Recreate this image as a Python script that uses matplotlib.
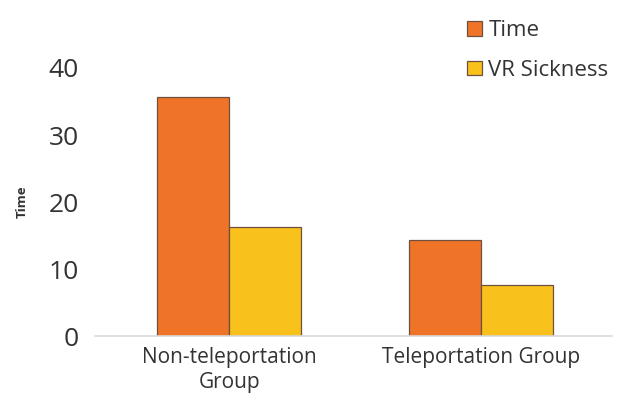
import matplotlib
matplotlib.use("Agg")
import matplotlib.pyplot as plt
import numpy as np

groups = ["Non-teleportation\nGroup", "Teleportation Group"]
series = ["Time", "VR Sickness"]
time_vals = [35.7, 14.3]
sickness_vals = [16.3, 7.6]
yticks = [0, 10, 20, 30, 40]

plt.rcParams["font.family"] = ["Open Sans", "DejaVu Sans"]

fig = plt.figure(figsize=(6.39, 4.12), dpi=100)
ax = fig.add_axes([0.149, 0.184, 0.809, 0.651])

x = np.arange(len(groups))
w = 0.286
edge = "#6e5040"
ax.bar(x - w / 2, time_vals, w, color="#ef7428", edgecolor=edge, linewidth=0.9, label=series[0])
ax.bar(x + w / 2, sickness_vals, w, color="#f9c11c", edgecolor=edge, linewidth=0.9, label=series[1])

ax.set_xlim(-0.532, 1.52)
ax.set_ylim(0, 40)
ax.set_yticks(yticks)
ax.set_xticks(x)
ax.set_xticklabels(groups, fontsize=15, color="#333333", linespacing=1.25)
ax.tick_params(axis="y", labelsize=19, colors="#333333", length=0, pad=12)
ax.tick_params(axis="x", length=0, pad=8)
for s in ["top", "right", "left"]:
    ax.spines[s].set_visible(False)
ax.spines["bottom"].set_color("#d9d9d9")
ax.spines["bottom"].set_linewidth(1.2)
ax.set_ylabel("Time", fontsize=9.5, fontweight="bold", color="#333333", labelpad=14)

fig.legend(loc="upper left", bbox_to_anchor=(0.700, 1.0), frameon=False,
           fontsize=16, handlelength=0.65, handleheight=0.65, handletextpad=0.3,
           labelspacing=0.85, labelcolor="#333333")

fig.savefig("out.png", dpi=100)
